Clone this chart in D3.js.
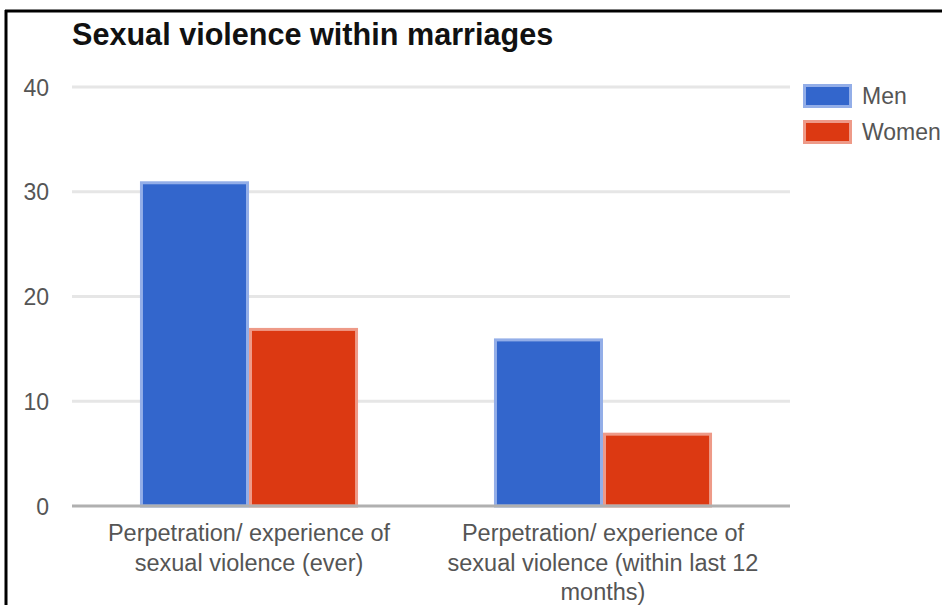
<!DOCTYPE html>
<html>
<head>
<meta charset="utf-8">
<script src="https://cdn.jsdelivr.net/npm/d3@7"></script>
<style>
  html, body { margin: 0; padding: 0; background: #fff; }
  svg { display: block; font-family: "Liberation Sans", Arial, sans-serif; }
</style>
</head>
<body>
<svg id="chart" width="942" height="605"></svg>
<script>
const title = "Sexual violence within marriages";
const categories = [
  ["Perpetration/ experience of", "sexual violence (ever)"],
  ["Perpetration/ experience of", "sexual violence (within last 12", "months)"]
];
const seriesNames = ["Men", "Women"];
const menValues = [31, 16];
const womenValues = [17, 7];
const yTicks = [0, 10, 20, 30, 40];
const colors = ["#3366cc", "#dc3912"];
const strokeColors = ["#93aee8", "#ee9a88"];

const svg = d3.select("#chart");

// frame (left and top border)
svg.append("line").attr("x1", 6).attr("x2", 6).attr("y1", 10).attr("y2", 605)
  .attr("stroke", "#000").attr("stroke-width", 3);
svg.append("line").attr("x1", 5).attr("x2", 942).attr("y1", 11).attr("y2", 11)
  .attr("stroke", "#000").attr("stroke-width", 3);

const plotLeft = 72, plotRight = 790;
const y = d3.scaleLinear().domain([0, 40]).range([506, 87]);
const x0 = d3.scaleBand().domain(d3.range(categories.length)).range([72, 780]).paddingInner(0).paddingOuter(0);
const x1 = d3.scaleBand().domain(d3.range(seriesNames.length)).range([0, x0.bandwidth() * 0.616]);

// gridlines
svg.append("g").selectAll("line").data(yTicks.filter(d => d !== 0)).join("line")
  .attr("x1", plotLeft).attr("x2", plotRight)
  .attr("y1", d => y(d)).attr("y2", d => y(d))
  .attr("stroke", "#e6e6e6").attr("stroke-width", 3);

// y tick labels via axis
const yAxis = d3.axisLeft(y).tickValues(yTicks).tickSize(0).tickPadding(0);
const yg = svg.append("g").attr("transform", "translate(49,0)").call(yAxis);
yg.select(".domain").remove();
yg.selectAll("text").attr("font-size", 23).attr("fill", "#555")
  .attr("font-family", "'Liberation Sans', Arial, sans-serif").attr("dy", "0.35em");

// bars
const data = categories.map((c, i) => ({ i, vals: [menValues[i], womenValues[i]] }));
const groups = svg.append("g").selectAll("g").data(data).join("g")
  .attr("transform", d => `translate(${x0(d.i) + (x0.bandwidth() - x1.range()[1]) / 2},0)`);
groups.selectAll("rect").data(d => d.vals.map((v, s) => ({ v, s }))).join("rect")
  .attr("x", d => x1(d.s) + 1.5)
  .attr("width", x1.bandwidth() - 3)
  .attr("y", d => y(d.v) + 1.5)
  .attr("height", d => y(0) - y(d.v) - 1.5)
  .attr("fill", d => colors[d.s])
  .attr("stroke", d => strokeColors[d.s])
  .attr("stroke-width", 3);

// zero baseline
svg.append("line").attr("x1", plotLeft).attr("x2", plotRight)
  .attr("y1", y(0)).attr("y2", y(0))
  .attr("stroke", "#b0b0b0").attr("stroke-width", 3);

// x labels
const xl = svg.append("g").selectAll("text").data(categories).join("text")
  .attr("x", (d, i) => x0(i) + x0.bandwidth() / 2)
  .attr("y", 541)
  .attr("text-anchor", "middle")
  .attr("font-size", 23.5)
  .attr("fill", "#555");
xl.selectAll("tspan").data(d => d).join("tspan")
  .attr("x", function () { return d3.select(this.parentNode).attr("x"); })
  .attr("dy", (d, j) => j === 0 ? 0 : 29.5)
  .text(d => d);

// title
svg.append("text").attr("x", 72).attr("y", 45)
  .attr("font-size", 30.6).attr("font-weight", "bold").attr("fill", "#111")
  .text(title);

// legend
const lg = svg.append("g").selectAll("g").data(seriesNames).join("g")
  .attr("transform", (d, i) => `translate(803,${84 + i * 36})`);
lg.append("rect").attr("x", 1.5).attr("y", 1.5).attr("width", 46).attr("height", 21)
  .attr("fill", (d, i) => colors[i]).attr("stroke", (d, i) => strokeColors[i]).attr("stroke-width", 3);
lg.append("text").attr("x", 59).attr("y", 12).attr("dy", "0.35em")
  .attr("font-size", 23).attr("fill", "#555").text(d => d);
</script>
</body>
</html>
